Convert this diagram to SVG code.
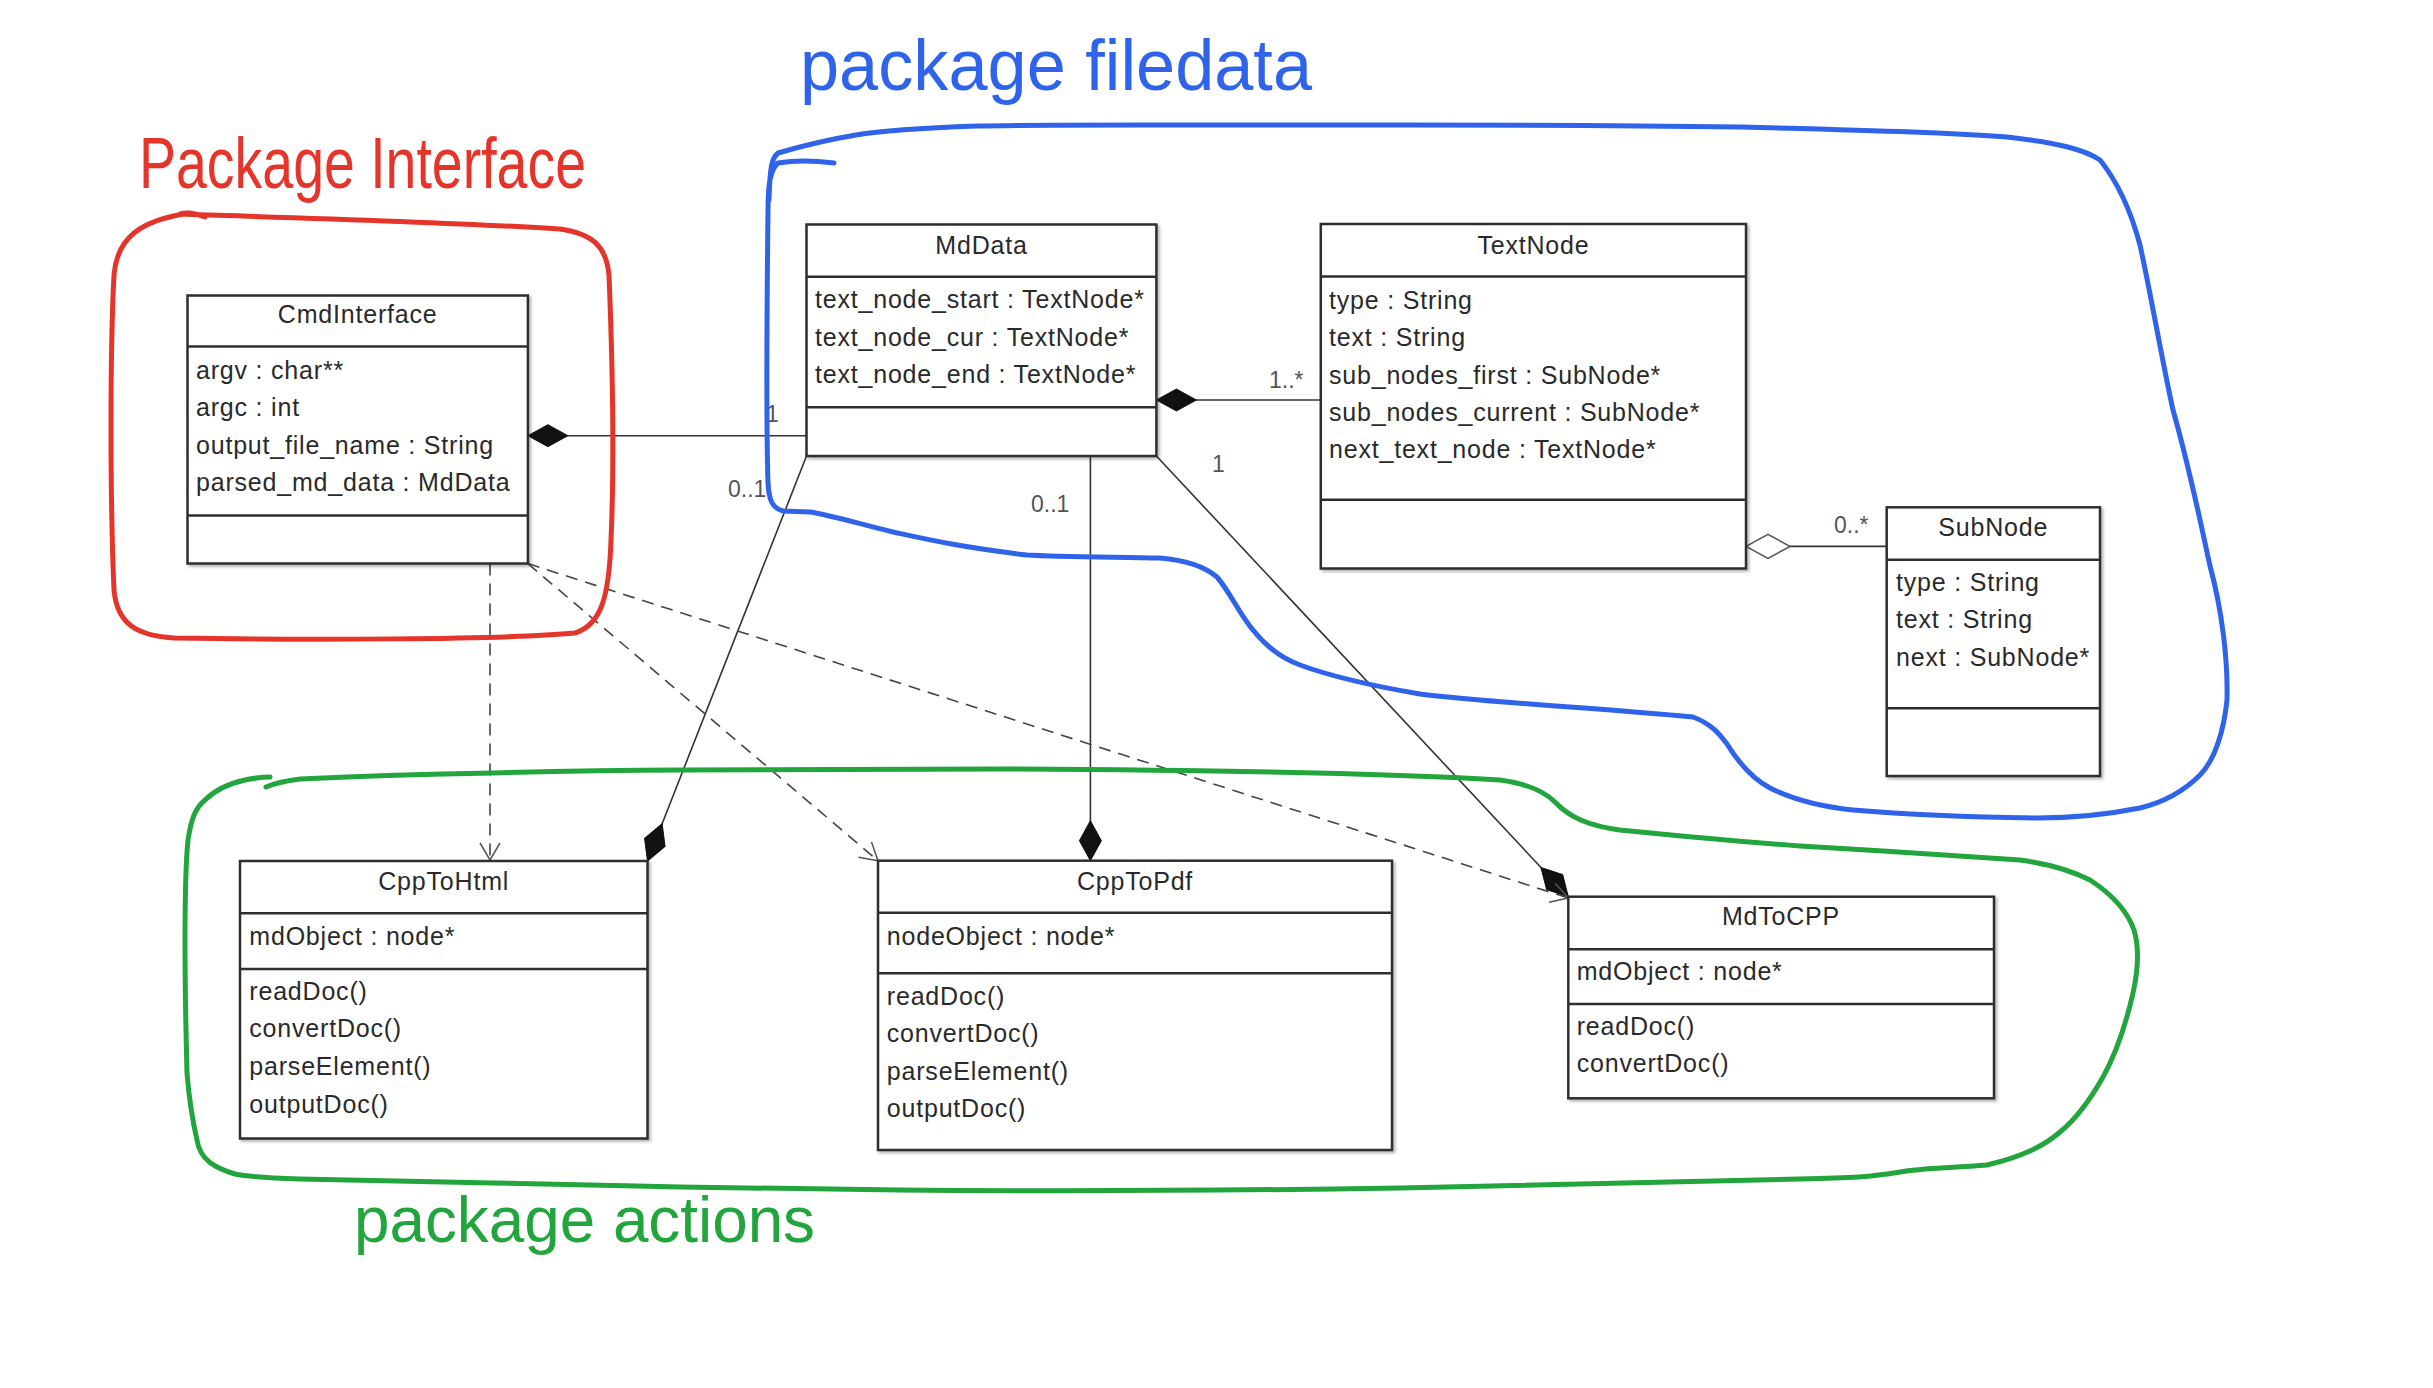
<svg xmlns="http://www.w3.org/2000/svg" width="2433" height="1388" viewBox="0 0 2433 1388">
<style>
.box{fill:#fff;stroke:#2e2e2e;stroke-width:2.5;filter:url(#shadow)}
.div{stroke:#2e2e2e;stroke-width:2.5}
.t{font-family:"Liberation Sans",Arial,sans-serif;font-size:25px;fill:#2a2a2a;letter-spacing:0.8px}
.title{text-anchor:middle}
.mult{font-family:"Liberation Sans",Arial,sans-serif;font-size:23px;fill:#555}
.conn{stroke:#333;stroke-width:1.6;fill:none}
.dash{stroke:#444;stroke-width:1.6;fill:none;stroke-dasharray:12 8}
.hand{fill:none;stroke-width:5;stroke-linecap:round;stroke-linejoin:round}
.htext{font-family:"Liberation Sans",Arial,sans-serif}
</style>
<defs>
<filter id="shadow" x="-5%" y="-5%" width="115%" height="115%">
<feDropShadow dx="2" dy="2" stdDeviation="1.5" flood-color="#000" flood-opacity="0.3"/>
</filter>
<marker id="dfill" viewBox="-42 -13 44 26" refX="0" refY="0" markerWidth="44" markerHeight="26" markerUnits="userSpaceOnUse" orient="auto">
<path d="M0 0 L-20 -11 L-40 0 L-20 11 Z" fill="#111" stroke="#111" stroke-width="1"/>
</marker>
<marker id="hollow" viewBox="-46 -14 48 28" refX="0" refY="0" markerWidth="48" markerHeight="28" markerUnits="userSpaceOnUse" orient="auto">
<path d="M0 0 L-22 -12 L-44 0 L-22 12 Z" fill="#fff" stroke="#555" stroke-width="1.6"/>
</marker>
<marker id="open" viewBox="-20 -12 22 24" refX="0" refY="0" markerWidth="22" markerHeight="24" markerUnits="userSpaceOnUse" orient="auto">
<path d="M-17 -10 L0 0 L-17 10" fill="none" stroke="#555" stroke-width="1.5"/>
</marker>
</defs>
<rect width="2433" height="1388" fill="#fff"/>

<g id="connectors">
<line class="conn" x1="806.5" y1="435.7" x2="527.9" y2="435.7" marker-end="url(#dfill)"/>
<line class="conn" x1="1320.8" y1="400" x2="1156.4" y2="400" marker-end="url(#dfill)"/>
<line class="conn" x1="1886.7" y1="546.4" x2="1746" y2="546.4" marker-end="url(#hollow)"/>
<line class="conn" x1="806.5" y1="456" x2="647.5" y2="861" marker-end="url(#dfill)"/>
<line class="conn" x1="1090.4" y1="456" x2="1090.4" y2="860.7" marker-end="url(#dfill)"/>
<line class="conn" x1="1156.4" y1="456" x2="1568.3" y2="896.7" marker-end="url(#dfill)"/>
<line class="dash" x1="490" y1="563.6" x2="490" y2="860" marker-end="url(#open)"/>
<line class="dash" x1="527.9" y1="563.6" x2="878" y2="860.7" marker-end="url(#open)"/>
<line class="dash" x1="527.9" y1="563.6" x2="1568.3" y2="898" marker-end="url(#open)"/>
<text class="mult" x="766" y="422">1</text>
<text class="mult" x="728" y="497">0..1</text>
<text class="mult" x="1269" y="388">1..*</text>
<text class="mult" x="1031" y="512">0..1</text>
<text class="mult" x="1212" y="472">1</text>
<text class="mult" x="1834" y="533">0..*</text>
</g>

<g id="CmdInterface">
<rect class="box" x="187.5" y="295.5" width="340.4" height="268"/>
<line class="div" x1="187.5" y1="346.4" x2="527.9" y2="346.4"/>
<line class="div" x1="187.5" y1="515.4" x2="527.9" y2="515.4"/>
<text class="t title" x="357.7" y="323">CmdInterface</text>
<text class="t" x="196" y="378.6">argv : char**</text>
<text class="t" x="196" y="416">argc : int</text>
<text class="t" x="196" y="453.6">output_file_name : String</text>
<text class="t" x="196" y="491">parsed_md_data : MdData</text>
</g>

<g id="MdData">
<rect class="box" x="806.5" y="224.5" width="349.9" height="231.5"/>
<line class="div" x1="806.5" y1="276.7" x2="1156.4" y2="276.7"/>
<line class="div" x1="806.5" y1="407.3" x2="1156.4" y2="407.3"/>
<text class="t title" x="981.5" y="253.5">MdData</text>
<text class="t" x="815" y="308.3">text_node_start : TextNode*</text>
<text class="t" x="815" y="345.7">text_node_cur : TextNode*</text>
<text class="t" x="815" y="383.3">text_node_end : TextNode*</text>
</g>

<g id="TextNode">
<rect class="box" x="1320.8" y="224" width="425.2" height="344.5"/>
<line class="div" x1="1320.8" y1="276.5" x2="1746" y2="276.5"/>
<line class="div" x1="1320.8" y1="499.7" x2="1746" y2="499.7"/>
<text class="t title" x="1533.4" y="253.6">TextNode</text>
<text class="t" x="1329" y="309">type : String</text>
<text class="t" x="1329" y="346.3">text : String</text>
<text class="t" x="1329" y="383.7">sub_nodes_first : SubNode*</text>
<text class="t" x="1329" y="421">sub_nodes_current : SubNode*</text>
<text class="t" x="1329" y="458.3">next_text_node : TextNode*</text>
</g>

<g id="SubNode">
<rect class="box" x="1886.7" y="507.3" width="213.3" height="268.7"/>
<line class="div" x1="1886.7" y1="559.7" x2="2100" y2="559.7"/>
<line class="div" x1="1886.7" y1="708.2" x2="2100" y2="708.2"/>
<text class="t title" x="1993.3" y="536">SubNode</text>
<text class="t" x="1896" y="590.8">type : String</text>
<text class="t" x="1896" y="628.3">text : String</text>
<text class="t" x="1896" y="665.8">next : SubNode*</text>
</g>

<g id="CppToHtml">
<rect class="box" x="240" y="861" width="407.5" height="277.5"/>
<line class="div" x1="240" y1="913.3" x2="647.5" y2="913.3"/>
<line class="div" x1="240" y1="969" x2="647.5" y2="969"/>
<text class="t title" x="443.7" y="890">CppToHtml</text>
<text class="t" x="249.3" y="945">mdObject : node*</text>
<text class="t" x="249.3" y="1000">readDoc()</text>
<text class="t" x="249.3" y="1037.3">convertDoc()</text>
<text class="t" x="249.3" y="1075">parseElement()</text>
<text class="t" x="249.3" y="1112.7">outputDoc()</text>
</g>

<g id="CppToPdf">
<rect class="box" x="878" y="860.7" width="514" height="289.3"/>
<line class="div" x1="878" y1="912.7" x2="1392" y2="912.7"/>
<line class="div" x1="878" y1="973.3" x2="1392" y2="973.3"/>
<text class="t title" x="1135" y="890">CppToPdf</text>
<text class="t" x="886.8" y="945">nodeObject : node*</text>
<text class="t" x="886.8" y="1005">readDoc()</text>
<text class="t" x="886.8" y="1042.3">convertDoc()</text>
<text class="t" x="886.8" y="1080">parseElement()</text>
<text class="t" x="886.8" y="1117.3">outputDoc()</text>
</g>

<g id="MdToCPP">
<rect class="box" x="1568.3" y="896.7" width="425.7" height="201.6"/>
<line class="div" x1="1568.3" y1="949.3" x2="1994" y2="949.3"/>
<line class="div" x1="1568.3" y1="1004" x2="1994" y2="1004"/>
<text class="t title" x="1781" y="925">MdToCPP</text>
<text class="t" x="1576.7" y="980">mdObject : node*</text>
<text class="t" x="1576.7" y="1035">readDoc()</text>
<text class="t" x="1576.7" y="1071.7">convertDoc()</text>
</g>

<g id="package-interface">
<path class="hand" stroke="#e5352b" d="M205 217 C195 213 186 212 180 214 C300 218 450 222 560 229 C592 234 606 245 609 275 C612 350 615 450 611 540 C609 600 600 625 575 633 C500 640 300 640 175 638 C137 636 117 624 114 590 C110 500 110 350 114 275 C117 238 140 220 190 213"/>
<text class="htext" x="139" y="188" font-size="72" fill="#e5352b" textLength="447" lengthAdjust="spacingAndGlyphs">Package Interface</text>
</g>

<g id="package-filedata">
<path class="hand" stroke="#2f63ea" d="M834 163 C810 160 790 161 778 163 C770 170 768 185 768 210 C767 300 766 420 768 483 C769 500 772 508 783 511 L810 512 C830 515 860 524 893 532 C930 540 960 547 1027 555 C1060 557 1120 557 1160 558 C1185 560 1205 567 1217 577 C1230 592 1240 615 1253 630 C1265 645 1280 658 1300 665 C1330 676 1373 686 1420 694 C1480 702 1600 708 1693 717 C1712 724 1720 735 1727 744 C1740 765 1755 780 1770 788 C1790 798 1815 806 1853 810 C1900 814 1953 817 2037 818 C2080 818 2110 814 2140 808 C2165 802 2185 790 2200 775 C2215 760 2224 730 2227 700 C2228 660 2222 610 2210 566 C2200 520 2190 470 2173 410 C2162 360 2150 290 2140 245 C2132 215 2120 185 2100 160 C2085 150 2060 143 2007 137 C1950 133 1900 131 1740 127 C1600 125 1500 125 1400 125 C1300 125 1200 125 1146 125 C1050 125 1010 125 977 126 C920 128 885 130 856 135 C820 141 795 148 778 153 C772 158 770 165 769 200"/>
<text class="htext" x="800" y="90" font-size="72" fill="#2f63ea" textLength="512" lengthAdjust="spacingAndGlyphs">package filedata</text>
</g>

<g id="package-actions">
<path class="hand" stroke="#22a53c" d="M266 787 C275 783 285 781 300 779 C360 776 420 774 493 773 C560 771 620 770 680 770 C800 769 900 769 1000 769 C1200 770 1400 774 1500 780 C1530 784 1545 792 1555 802 C1570 818 1590 826 1620 830 C1680 836 1720 840 1800 846 C1880 851 1920 853 2020 860 C2050 864 2070 870 2090 880 C2110 893 2127 910 2134 930 C2140 950 2137 975 2133 993 C2128 1015 2118 1050 2103 1077 C2090 1100 2075 1120 2060 1132 C2045 1145 2025 1156 1987 1165 C1950 1168 1920 1168 1900 1172 C1870 1177 1853 1178 1800 1179 C1720 1180 1620 1183 1400 1188 C1200 1191 1000 1191 900 1190 C800 1189 700 1187 680 1187 C600 1185 500 1183 493 1183 C420 1181 360 1180 300 1179 C270 1178 250 1177 235 1174 C215 1168 200 1160 197 1140 C190 1110 187 1073 187 1073 C185 1000 185 960 185 940 C185 900 186 860 188 840 C191 820 195 808 205 800 C215 790 227 784 245 780 C255 778 262 777 270 777"/>
<text class="htext" x="354" y="1242" font-size="64" fill="#22a53c" textLength="461" lengthAdjust="spacingAndGlyphs">package actions</text>
</g>
</svg>
